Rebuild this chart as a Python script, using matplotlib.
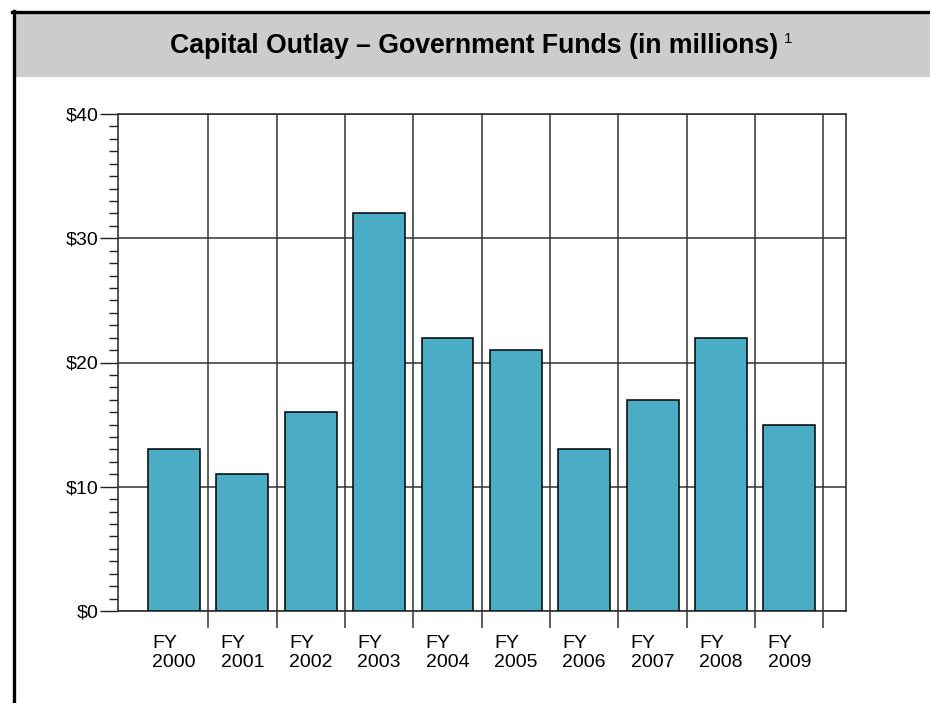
import matplotlib.pyplot as plt
from matplotlib.patches import Rectangle
from matplotlib.lines import Line2D
from matplotlib.ticker import MultipleLocator, FixedLocator

plt.rcParams['font.family'] = ['Liberation Sans', 'DejaVu Sans']

# Capital outlay by fiscal year, in millions of dollars
years = ['2000', '2001', '2002', '2003', '2004', '2005', '2006', '2007', '2008', '2009']
outlay = [13, 11, 16, 32, 22, 21, 13, 17, 22, 15]
y_ticks = [0, 10, 20, 30, 40]
y_labels = ['$0', '$10', '$20', '$30', '$40']

W, H = 930, 703
fig = plt.figure(figsize=(W / 100, H / 100), dpi=100)

# header band and frame
fig.patches.append(Rectangle((15 / W, 1 - 77 / H), 1 - 15 / W, 64 / H,
                             transform=fig.transFigure, facecolor='#cccccc',
                             edgecolor='none', zorder=0))
fig.add_artist(Line2D([12 / W, 1], [1 - 12 / H, 1 - 12 / H], color='black',
                      lw=2.4, transform=fig.transFigure))
fig.add_artist(Line2D([13.5 / W, 13.5 / W], [0, 1 - 11 / H], color='black',
                      lw=2.4, transform=fig.transFigure))

fig.text(474 / W, 1 - 46 / H, 'Capital Outlay \u2013 Government Funds (in millions)',
         ha='center', va='center', fontsize=19.2, fontweight='bold')
fig.text(784 / W, 1 - 39 / H, '1', ha='left', va='center', fontsize=11)

ax = fig.add_axes([118 / W, 1 - 611 / H, (846 - 118) / W, (611 - 114) / H])

x = list(range(len(years)))
ax.bar(x, outlay, width=0.76, color='#4bacc6', edgecolor='black',
       linewidth=1.1, zorder=3)

ax.set_xlim(-0.82, len(years) - 1 + 0.83)
ax.set_ylim(0, 40)

ax.set_yticks(y_ticks)
ax.set_yticklabels(y_labels, fontsize=14)
ax.yaxis.set_minor_locator(MultipleLocator(1))
ax.tick_params(axis='y', which='major', length=13, width=1, color='#222222', pad=1)
ax.tick_params(axis='y', which='minor', length=6.8, width=1, color='#222222')

ax.set_xticks(x)
ax.set_xticklabels(['FY\n' + y for y in years], fontsize=14)
for lbl in ax.get_xticklabels():
    lbl.set_multialignment('left')
ax.xaxis.set_minor_locator(FixedLocator([i + 0.5 for i in x]))
ax.tick_params(axis='x', which='major', length=0, pad=17)
ax.tick_params(axis='x', which='minor', length=12, width=1.1, color='#333333')

ax.grid(axis='y', which='major', color='#333333', lw=1.1, zorder=0)
ax.grid(axis='x', which='minor', color='#333333', lw=1.1, zorder=0)
ax.set_axisbelow(True)

for s in ax.spines.values():
    s.set_color('#333333')
    s.set_linewidth(1.2)

fig.savefig('out.png', dpi=100)
